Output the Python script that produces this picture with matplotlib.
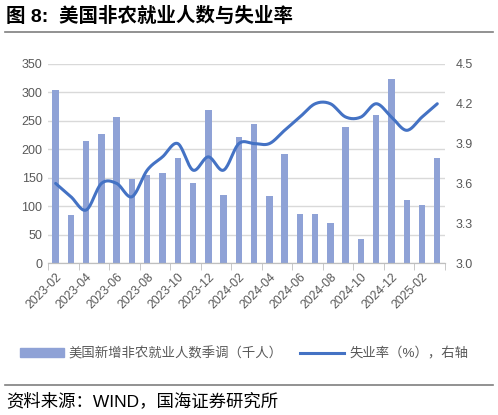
import numpy as np
import matplotlib
matplotlib.use("Agg")
import matplotlib.pyplot as plt
from matplotlib.lines import Line2D
from matplotlib.patches import Patch

plt.rcParams["font.family"] = ["Liberation Sans", "Noto Sans CJK SC", "DejaVu Sans"]

months = ["2023-02", "2023-03", "2023-04", "2023-05", "2023-06", "2023-07",
          "2023-08", "2023-09", "2023-10", "2023-11", "2023-12", "2024-01",
          "2024-02", "2024-03", "2024-04", "2024-05", "2024-06", "2024-07",
          "2024-08", "2024-09", "2024-10", "2024-11", "2024-12", "2025-01",
          "2025-02", "2025-03"]
payrolls = [305, 84, 215, 226, 256, 147, 155, 158, 185, 140, 269, 119,
            221, 245, 118, 192, 87, 87, 71, 240, 43, 261, 323, 111,
            102, 184]
unemp = [3.6, 3.5, 3.4, 3.6, 3.6, 3.5, 3.7, 3.8, 3.9, 3.7, 3.8, 3.7,
         3.9, 3.9, 3.9, 4.0, 4.1, 4.2, 4.2, 4.1, 4.1, 4.2, 4.1, 4.0,
         4.1, 4.2]

bar_color = "#8FA2D6"
line_color = "#4472C4"
text_gray = "#595959"
grid_gray = "#D9D9D9"


def smooth(xs, ys, n=20):
    # bezier smoothing like office charts
    xs = np.asarray(xs, float)
    ys = np.asarray(ys, float)
    pts = np.column_stack([xs, ys])
    out = [pts[0]]
    for i in range(len(pts) - 1):
        p0 = pts[i - 1] if i > 0 else pts[i]
        p1 = pts[i]
        p2 = pts[i + 1]
        p3 = pts[i + 2] if i + 2 < len(pts) else pts[i + 1]
        c1 = p1 + (p2 - p0) / 6
        c2 = p2 - (p3 - p1) / 6
        t = np.linspace(0, 1, n)[1:, None]
        seg = ((1 - t) ** 3) * p1 + 3 * ((1 - t) ** 2) * t * c1 + 3 * (1 - t) * t ** 2 * c2 + t ** 3 * p2
        out.extend(seg)
    out = np.array(out)
    return out[:, 0], out[:, 1]


fig = plt.figure(figsize=(4.98, 4.15), dpi=100)
ax = fig.add_axes([0.0964, 0.366, 0.797, 0.480])
ax2 = ax.twinx()

x = np.arange(len(months))
ax.bar(x, payrolls, width=0.42, color=bar_color, zorder=2)
ax.set_ylim(0, 350)
ax.set_yticks(range(0, 351, 50))
ax.set_xlim(-0.5, len(months) - 0.5)
ax.grid(axis="y", color=grid_gray, linewidth=1, zorder=0)
ax.set_axisbelow(True)

sx, sy = smooth(x, unemp)
ax2.plot(sx, sy, color=line_color, linewidth=2.2, solid_capstyle="round")
ax2.set_ylim(3.0, 4.5)
ax2.set_yticks([3.0, 3.3, 3.6, 3.9, 4.2, 4.5])
ax2.set_yticklabels(["3.0", "3.3", "3.6", "3.9", "4.2", "4.5"])

for a in (ax, ax2):
    for s in ("top", "left", "right"):
        a.spines[s].set_visible(False)
    a.spines["bottom"].set_color("#BFBFBF")
    a.tick_params(axis="y", length=0, labelsize=9, labelcolor=text_gray, pad=4)

ax.set_xticks(x[::2])
ax.set_xticklabels(months[::2], rotation=45, ha="right", rotation_mode="anchor",
                   fontsize=8.8, color=text_gray)
ax.tick_params(axis="x", which="major", length=0, pad=6)
ax.set_xticks(np.arange(-0.5, len(months), 2), minor=True)
ax.tick_params(axis="x", which="minor", length=5, color="#BFBFBF", direction="out")
ax2.tick_params(axis="y", pad=8)

handles = [Patch(color=bar_color, label="美国新增非农就业人数季调（千人）"),
           Line2D([0], [0], color=line_color, linewidth=2.2, label="失业率（%），右轴")]
fig.legend(handles=handles, loc="center", bbox_to_anchor=(0.49, 0.148), ncol=2,
           frameon=False, fontsize=9.6, labelcolor=text_gray,
           handlelength=3.3, handleheight=0.7, columnspacing=1.3, handletextpad=0.4)

fig.text(0.012, 0.962, "图 8:  美国非农就业人数与失业率", fontsize=14, fontweight="bold",
         ha="left", va="center", color="black")
fig.add_artist(Line2D([0.01, 0.99], [0.923, 0.923], color="#7F7F7F", linewidth=1.2))
fig.add_artist(Line2D([0.01, 0.99], [0.072, 0.072], color="#7F7F7F", linewidth=1.2))
fig.text(0.012, 0.035, "资料来源：WIND，国海证券研究所", fontsize=12.5,
         ha="left", va="center", color="black")

fig.savefig("out.png", dpi=100)
